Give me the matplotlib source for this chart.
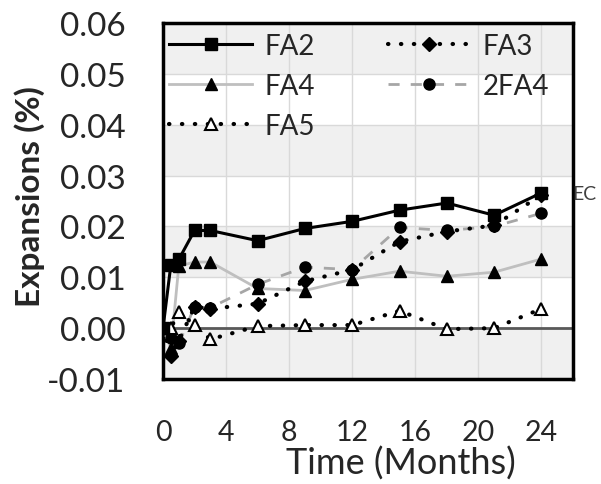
import matplotlib
matplotlib.use("Agg")
import matplotlib.pyplot as plt
import numpy as np

plt.rcParams['font.family'] = ['Lato', 'DejaVu Sans']

# Data (time in months, expansion in %)
time = [0, 0.5, 1, 2, 3, 6, 9, 12, 15, 18, 21, 24]
fa2 = [0.0, 0.0125, 0.0135, 0.0192, 0.0192, 0.0172, 0.0196, 0.0210, 0.0232, 0.0246, 0.0222, 0.0266]
fa3 = [0.0, -0.0055, -0.0025, 0.0042, 0.0038, 0.0048, 0.0092, 0.0115, 0.0170, 0.0190, 0.0202, 0.0262]
fa4 = [0.0, -0.0040, 0.0122, 0.0130, 0.0130, 0.0078, 0.0074, 0.0096, 0.0112, 0.0102, 0.0110, 0.0136]
fa4_2 = [0.0, -0.0020, -0.0030, 0.0042, 0.0040, 0.0086, 0.0120, 0.0115, 0.0198, 0.0192, 0.0200, 0.0226]
fa5 = [0.0, 0.0000, 0.0032, 0.0006, -0.0022, 0.0004, 0.0006, 0.0006, 0.0034, -0.0002, 0.0000, 0.0038]

xticks = [0, 4, 8, 12, 16, 20, 24]
yticks = [-0.01, 0.00, 0.01, 0.02, 0.03, 0.04, 0.05, 0.06]

fig = plt.figure(figsize=(6.01, 4.85), dpi=100)
ax = fig.add_axes([163/601, 1-380/485, (573-163)/601, (380-24)/485])
ax.set_xlim(0, 26)
ax.set_ylim(-0.01, 0.06)

for i in range(len(yticks) - 1):
    if i % 2 == 0:
        ax.axhspan(yticks[i], yticks[i+1], color='#f0f0f0', zorder=0, lw=0)
for y in yticks:
    ax.axhline(y, color='#d9d9d9', lw=1, zorder=0.5)
for x in xticks[1:]:
    ax.axvline(x, color='#d9d9d9', lw=1, zorder=0.5)
ax.axhline(0, color='#595959', lw=2, zorder=1)

dot = (0, (0.1, 3.0))
h_fa2, = ax.plot(time, fa2, color='black', lw=2.2, marker='s', ms=8, label='FA2', zorder=5)
h_fa3, = ax.plot(time, fa3, color='black', lw=3, ls=dot, dash_capstyle='round',
                 marker='D', ms=7, label='FA3', zorder=4)
h_fa4, = ax.plot(time, fa4, color='#bfbfbf', lw=2, marker='^', ms=8, mfc='black', mec='black', label='FA4', zorder=3)
h_2fa4, = ax.plot(time, fa4_2, color='#a6a6a6', lw=2, ls=(0, (4, 4)), marker='o', ms=8,
                  mfc='black', mec='black', label='2FA4', zorder=3)
h_fa5, = ax.plot(time, fa5, color='black', lw=3, ls=dot, dash_capstyle='round',
                 marker='^', ms=9, mfc='white', mec='black', mew=1.5, label='FA5', zorder=4)

ax.set_xticks(xticks)
ax.set_yticks(yticks)
ax.set_xticklabels([str(x) for x in xticks], fontsize=20.5, color='#262626')
ax.set_yticklabels(['%.2f' % y for y in yticks], fontsize=24, color='#262626')
ax.tick_params(axis='both', length=0)
ax.tick_params(axis='x', pad=29)
ax.tick_params(axis='y', pad=27)

for s in ax.spines.values():
    s.set_color('black')
    s.set_linewidth(2.5)

fig.text(401/601, 1-475/485, 'Time (Months)', ha='center', va='baseline', fontsize=26, color='#262626')
fig.text(30/601, 1-197/485, 'Expansions (%)', ha='center', va='center', rotation=90,
         fontsize=24, fontweight='bold', color='#262626')

ax.text(25.93, 0.0264, 'EC', fontsize=14, color='#404040', va='center', ha='left', clip_on=False)

handles = [h_fa2, h_fa4, h_fa5, h_fa3, h_2fa4]
leg = ax.legend(handles=handles, labels=[h.get_label() for h in handles],
                ncol=2, loc='upper left', bbox_to_anchor=(169/601, 1-34/485),
                bbox_transform=fig.transFigure, frameon=False, fontsize=20,
                handlelength=3.0, handletextpad=0.43, columnspacing=2.62,
                labelspacing=0.5, borderpad=0, borderaxespad=0)
for t in leg.get_texts():
    t.set_color('#262626')

fig.savefig('out.png', dpi=100)
